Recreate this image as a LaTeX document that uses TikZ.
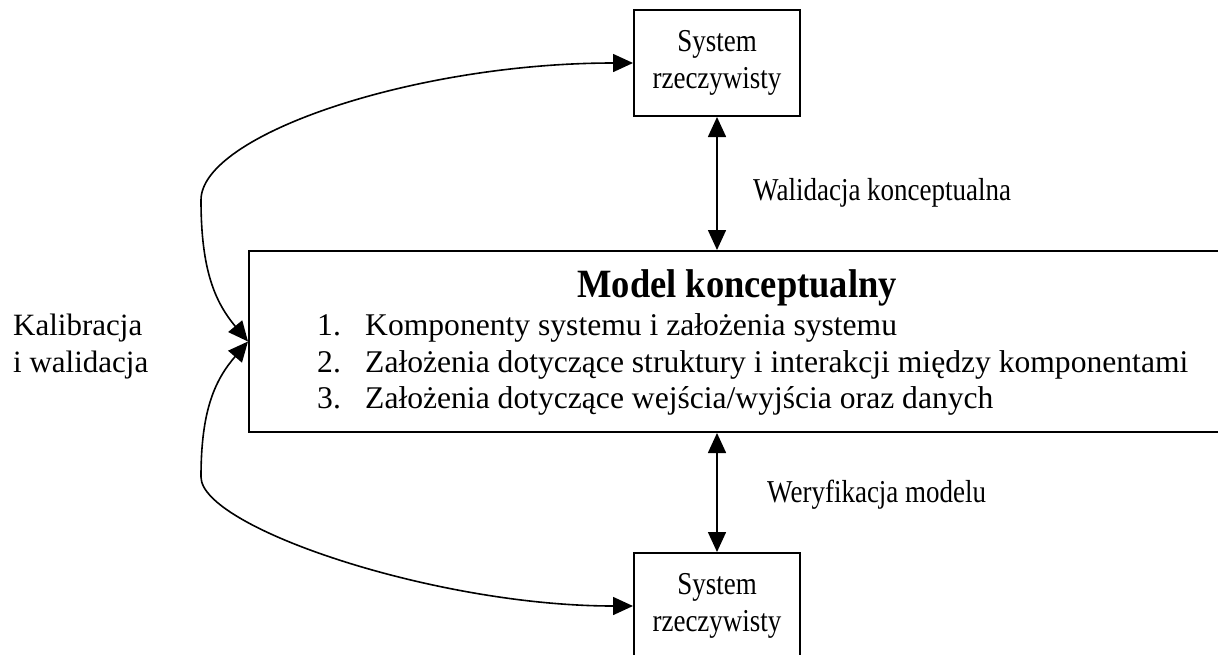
\documentclass[tikz,border=0pt]{standalone}
\usepackage{fontspec}
\setmainfont{Liberation Serif}
\usetikzlibrary{arrows.meta}

% slightly tall lettering for the short labels
\newcommand{\tallword}[1]{\scalebox{1}[1.18]{#1}}

\tikzset{
  boxline/.style={draw=black, line width=2pt, rectangle, inner sep=0pt},
  sysbox/.style={boxline, minimum width=166pt, minimum height=106pt, align=center,
    font=\fontsize{27}{37}\selectfont},
  flow/.style={line width=1.6pt, {Triangle[length=20pt,width=18pt]}-{Triangle[length=20pt,width=18pt]}},
  lbl/.style={anchor=base west, inner sep=0pt, font=\fontsize{27}{37}\selectfont},
  itemtxt/.style={anchor=base west, inner sep=0pt, font=\fontsize{31.6}{37}\selectfont},
}

\begin{document}
\begin{tikzpicture}[x=1pt,y=-1pt]
  \useasboundingbox (0,0) rectangle (1218,654);
  \clip (0,0) rectangle (1218,654);

  % boxes
  \node[sysbox] (top) at (717,63) {\tallword{System}\\\tallword{rzeczywisty}};
  \node[sysbox] (bot) at (717,606) {\tallword{System}\\\tallword{rzeczywisty}};
  \node[boxline, minimum width=976pt, minimum height=181pt] (model) at (737,341.5) {};

  % contents of the conceptual model
  \node[anchor=base, inner sep=0pt, font=\fontsize{36.5}{40}\selectfont\bfseries]
    (title) at (737,297) {\scalebox{1}[1.1]{Model konceptualny}};
  \node[itemtxt] (n1) at (317,335) {1.};
  \node[itemtxt] (i1) at (365,335) {Komponenty systemu i założenia systemu};
  \node[itemtxt] (n2) at (317,372) {2.};
  \node[itemtxt] (i2) at (365,372) {Założenia dotyczące struktury i interakcji między komponentami};
  \node[itemtxt] (n3) at (317,408) {3.};
  \node[itemtxt] (i3) at (365,408) {Założenia dotyczące wejścia/wyjścia oraz danych};

  % vertical connectors
  \draw[flow] (top.south) -- (top.south |- model.north);
  \draw[flow] (bot.north) -- (bot.north |- model.south);
  \node[lbl] (walid) at (753,200) {\tallword{Walidacja konceptualna}};
  \node[lbl] (weryf) at (767,502) {\tallword{Weryfikacja modelu}};

  % calibration loops on the left
  \coordinate (upbend) at (201,200);
  \coordinate (lobend) at (201,477);
  \draw[flow] (model.west) .. controls (215,302) and (201,270) .. (upbend)
    .. controls (201,135) and (414,63) .. (top.west);
  \draw[flow] (model.west) .. controls (215,380) and (201,410) .. (lobend)
    .. controls (201,527) and (434,606) .. (bot.west);

  \node[anchor=base west, inner sep=0pt, align=left, font=\fontsize{31}{37}\selectfont]
    (kal) at (13,372) {Kalibracja\\i walidacja};
\end{tikzpicture}
\end{document}
